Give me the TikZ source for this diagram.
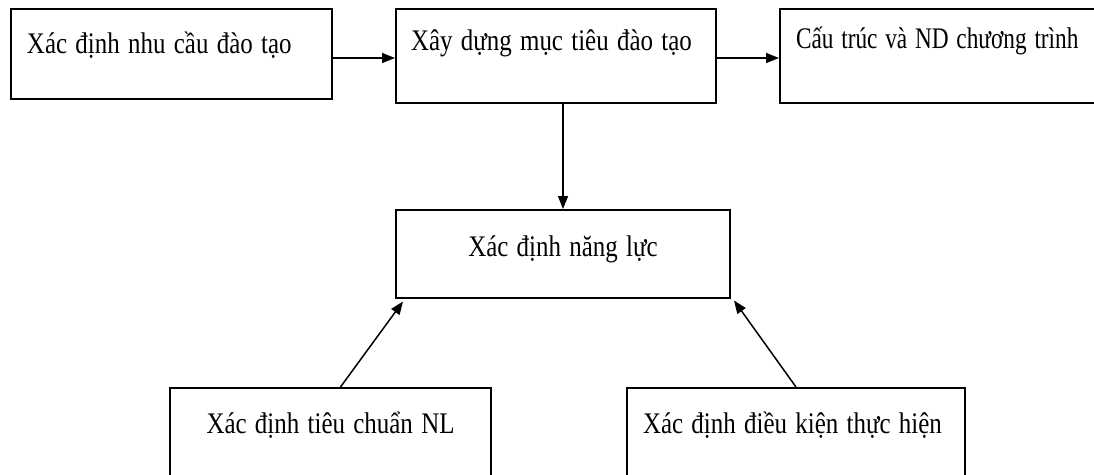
\documentclass[tikz,border=0pt]{standalone}
\usepackage{fontspec}
\usepackage{graphicx}
\setmainfont{Liberation Serif}
\usetikzlibrary{arrows.meta}
\newcommand{\narrow}[2][0.835]{\scalebox{#1}[1]{#2}}

\begin{document}
\begin{tikzpicture}[
  box/.style={draw, line width=0.04cm, inner xsep=0.32cm, inner ysep=0pt,
    anchor=north west, font=\fontsize{17}{20}\selectfont},
  flow/.style={line width=0.03cm, -{Triangle[length=0.26cm, width=0.2cm]}}]
  \useasboundingbox (0,0) rectangle (21.88,-9.5);
  \node[box, align=left, text width=5.78cm, text height=0.9cm, text depth=0.9cm] (need) at (0.2,-0.16) {\narrow{Xác định nhu cầu đào tạo}};
  \node[box, align=left, inner xsep=0.3cm, text width=5.8cm, text height=0.84cm, text depth=1.04cm] (goal) at (7.9,-0.16) {\narrow{Xây dựng mục tiêu đào tạo}};
  \node[box, align=left, text width=6.3cm, text height=0.8cm, text depth=1.08cm] (struct) at (15.58,-0.16) {\narrow[0.78]{Cấu trúc và ND chương trình}};
  \node[box, align=center, text width=6.04cm, text height=0.92cm, text depth=0.84cm] (nl) at (7.9,-4.18) {\narrow{Xác định năng lực}};
  \node[box, align=center, text width=5.78cm, text height=0.9cm, text depth=1.0cm] (std) at (3.38,-7.74) {\narrow{Xác định tiêu chuẩn NL}};
  \node[box, align=left, text width=6.12cm, text height=0.9cm, text depth=1.0cm] (cond) at (12.52,-7.74) {\narrow{Xác định điều kiện thực hiện}};
  \draw[flow] ([yshift=-0.08cm]need.east) -- ([yshift=-0.08cm]need.east -| goal.west);
  \draw[flow] ([yshift=-0.04cm]goal.east) -- ([yshift=-0.04cm]goal.east -| struct.west);
  \draw[flow] (nl.north |- goal.south) -- (nl.north);
  \draw[flow] ([xshift=0.2cm]std.north) -- ([xshift=0.16cm, yshift=-0.05cm]nl.south west);
  \draw[flow] (cond.north) -- ([xshift=0.06cm, yshift=-0.03cm]nl.south east);
\end{tikzpicture}
\end{document}
